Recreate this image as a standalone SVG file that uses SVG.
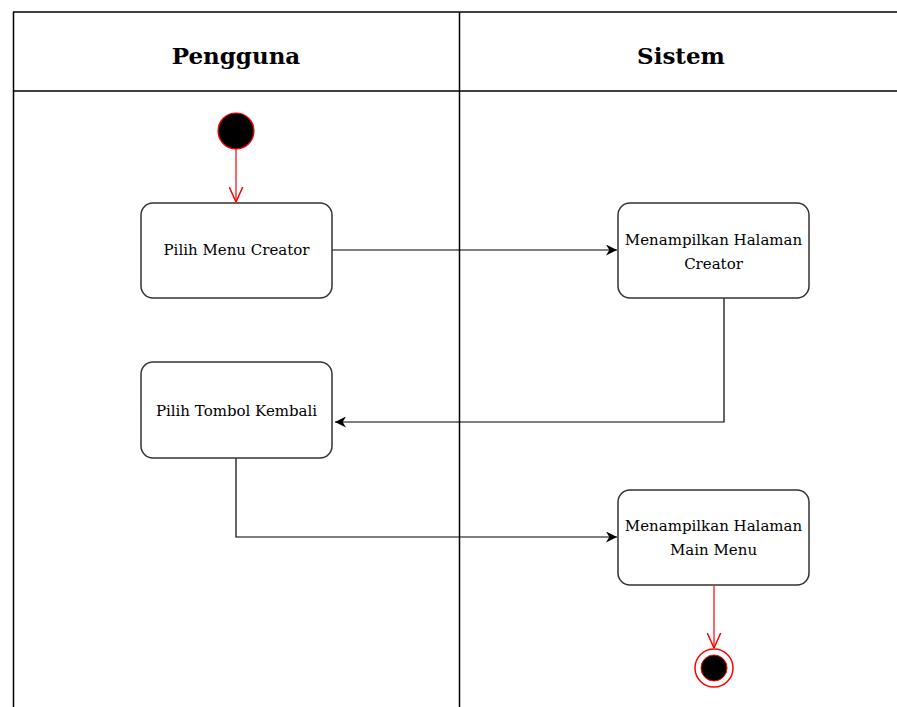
<svg xmlns="http://www.w3.org/2000/svg" width="897" height="707" viewBox="0 0 897 707">
  <style>
    .lane { stroke: #000; stroke-width: 1.5; fill: none; }
    .head { font-family: "DejaVu Serif", "Liberation Serif", serif; font-weight: bold; font-size: 23px; text-anchor: middle; fill: #000; }
    .act { fill: #fff; stroke: #333; stroke-width: 1.5; }
    .lbl { font-family: "DejaVu Serif", "Liberation Serif", serif; font-size: 15px; text-anchor: middle; fill: #000; }
    .flow { stroke: #000; stroke-width: 1.2; fill: none; }
    .ctl { stroke: #f00; stroke-width: 1.2; fill: none; }
  </style>
  <defs>
    <marker id="block" viewBox="0 0 10 10" refX="10" refY="5" markerWidth="11" markerHeight="11" markerUnits="userSpaceOnUse" orient="auto">
      <path d="M0,0 L10,5 L0,10 L3,5 Z" fill="#000"/>
    </marker>
    <marker id="open" viewBox="0 0 10 10" refX="10" refY="5" markerWidth="15" markerHeight="15" markerUnits="userSpaceOnUse" orient="auto">
      <path d="M0,0.5 L10,5 L0,9.5" fill="none" stroke="#f00" stroke-width="1"/>
    </marker>
  </defs>

  <rect width="897" height="707" fill="#fff"/>

  <!-- swimlanes -->
  <g id="lanes">
    <line class="lane" x1="13" y1="12" x2="897" y2="12"/>
    <line class="lane" x1="13" y1="91" x2="897" y2="91"/>
    <line class="lane" x1="13.5" y1="12" x2="13.5" y2="707"/>
    <line class="lane" x1="459.5" y1="12" x2="459.5" y2="707"/>
    <text class="head" x="236" y="64">Pengguna</text>
    <text class="head" x="681" y="64">Sistem</text>
  </g>

  <!-- connectors -->
  <g id="connectors">
    <line class="ctl" x1="236" y1="149" x2="236" y2="202" marker-end="url(#open)"/>
    <line class="flow" x1="332" y1="250" x2="617" y2="250" marker-end="url(#block)"/>
    <polyline class="flow" points="724,298 724,422 335,422" marker-end="url(#block)"/>
    <polyline class="flow" points="236,458 236,537 617,537" marker-end="url(#block)"/>
    <line class="ctl" x1="714" y1="586" x2="714" y2="648" marker-end="url(#open)"/>
  </g>

  <g id="start">
    <circle cx="236" cy="131" r="18" fill="#000" stroke="#f00" stroke-width="1.2"/>
  </g>

  <g id="pilih-menu-creator">
    <rect class="act" x="141" y="203" width="191" height="95" rx="12"/>
    <text class="lbl" x="236.5" y="255">Pilih Menu Creator</text>
  </g>

  <g id="tampil-creator">
    <rect class="act" x="618" y="203" width="191" height="95" rx="12"/>
    <text class="lbl" x="713.5" y="245">Menampilkan Halaman</text>
    <text class="lbl" x="713.5" y="269">Creator</text>
  </g>

  <g id="pilih-tombol-kembali">
    <rect class="act" x="141" y="362" width="191" height="96" rx="12"/>
    <text class="lbl" x="236.5" y="416">Pilih Tombol Kembali</text>
  </g>

  <g id="tampil-main-menu">
    <rect class="act" x="618" y="490" width="191" height="95" rx="12"/>
    <text class="lbl" x="713.5" y="531">Menampilkan Halaman</text>
    <text class="lbl" x="713.5" y="555">Main Menu</text>
  </g>

  <g id="end">
    <circle cx="714" cy="668" r="19" fill="#fff" stroke="#f00" stroke-width="1.5"/>
    <circle cx="714" cy="668" r="13" fill="#000" stroke="#f00" stroke-width="1"/>
  </g>
</svg>
